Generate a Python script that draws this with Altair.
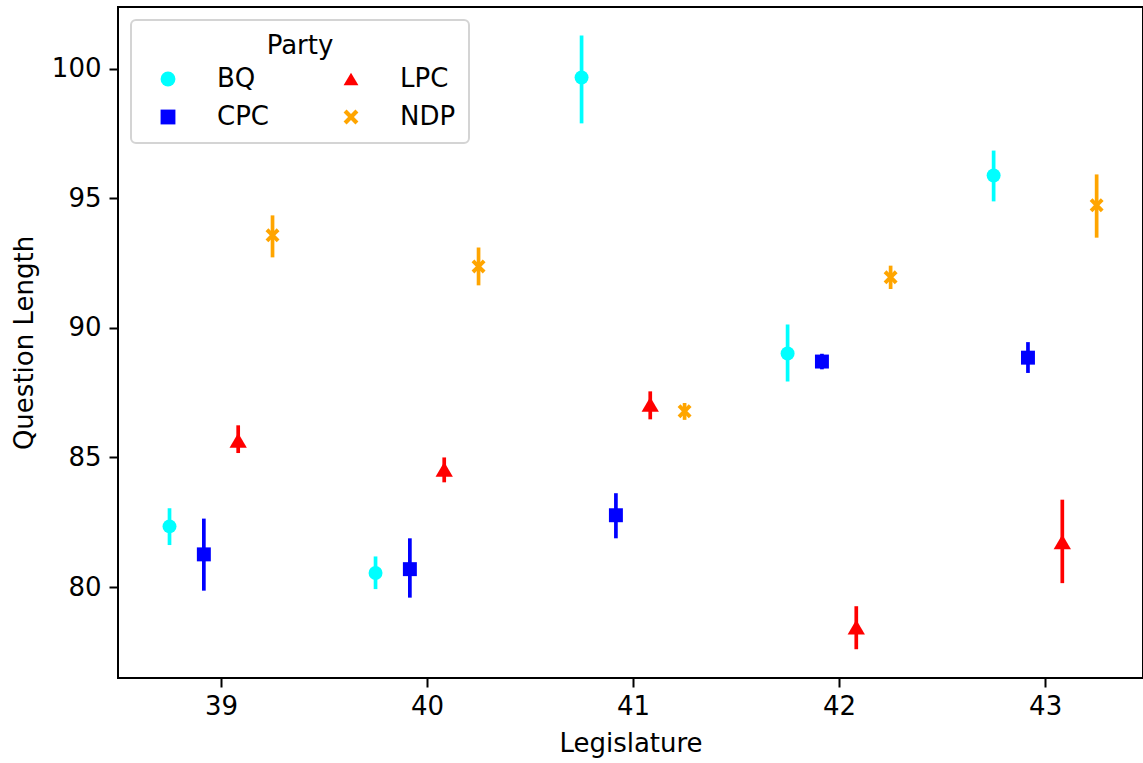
import altair as alt
import pandas as pd

legislatures = [39, 40, 41, 42, 43]
parties = ["BQ", "CPC", "LPC", "NDP"]

bq_mean = [82.34, 80.54, 99.66, 89.01, 95.88]
bq_lo = [81.62, 79.92, 97.89, 87.93, 94.88]
bq_hi = [83.04, 81.18, 101.28, 90.13, 96.84]

cpc_mean = [81.26, 80.69, 82.77, 88.70, 88.85]
cpc_lo = [79.86, 79.59, 81.88, 88.40, 88.26]
cpc_hi = [82.64, 81.88, 83.62, 89.00, 89.45]

lpc_mean = [85.66, 84.54, 87.05, 78.45, 81.74]
lpc_lo = [85.17, 84.04, 86.47, 77.60, 80.15]
lpc_hi = [86.24, 85.00, 87.55, 79.26, 83.37]

ndp_mean = [93.57, 92.37, 86.78, 91.95, 94.73]
ndp_lo = [92.72, 91.64, 86.45, 91.50, 93.48]
ndp_hi = [94.34, 93.10, 87.10, 92.40, 95.92]

series = {
    "BQ": (bq_mean, bq_lo, bq_hi),
    "CPC": (cpc_mean, cpc_lo, cpc_hi),
    "LPC": (lpc_mean, lpc_lo, lpc_hi),
    "NDP": (ndp_mean, ndp_lo, ndp_hi),
}
dodge = {"BQ": -0.25, "CPC": -1 / 12, "LPC": 1 / 12, "NDP": 0.25}

rows = []
for p in parties:
    m, lo, hi = series[p]
    for i, leg in enumerate(legislatures):
        rows.append({"Party": p, "leg": leg, "x": leg + dodge[p],
                     "mean": m[i], "lo": lo[i], "hi": hi[i]})
df = pd.DataFrame(rows)

tri_path = "M0,-0.85L1,0.85L-1,0.85Z"
x_path = ("M-1,-0.6L-0.6,-1L0,-0.4L0.6,-1L1,-0.6L0.4,0L1,0.6L0.6,1"
          "L0,0.4L-0.6,1L-1,0.6L-0.4,0Z")
color_scale = alt.Scale(domain=parties,
                        range=["#00ffff", "#0000ff", "#ff0000", "#ffa500"])
shape_scale = alt.Scale(domain=parties,
                        range=["circle", "square", tri_path, x_path])

xscale = alt.Scale(domain=[38.5, 43.475], nice=False, zero=False)
yscale = alt.Scale(domain=[76.49, 102.38], nice=False, zero=False)

base = alt.Chart(df)

bars = base.mark_rule(strokeWidth=3.7).encode(
    x=alt.X("x:Q", scale=xscale),
    y=alt.Y("lo:Q", scale=yscale),
    y2="hi:Q",
    color=alt.Color("Party:N", scale=color_scale),
)

enc = dict(
    x=alt.X("x:Q", scale=xscale,
            axis=alt.Axis(values=legislatures, format="d", title="Legislature")),
    y=alt.Y("mean:Q", scale=yscale,
            axis=alt.Axis(values=[80, 85, 90, 95, 100], title="Question Length")),
    color=alt.Color("Party:N", scale=color_scale,
                    legend=alt.Legend(title="Party", columns=2, values=parties)),
    shape=alt.Shape("Party:N", scale=shape_scale,
                    legend=alt.Legend(title="Party", columns=2, values=parties)),
)

pts = base.mark_point(filled=True, opacity=1, size=195).encode(**enc).transform_filter(
    alt.datum.Party != "LPC")
tri = base.mark_point(filled=True, opacity=1, size=300).encode(**enc).transform_filter(
    alt.datum.Party == "LPC")

chart = alt.layer(bars, pts, tri).properties(
    width=1025,
    height=671,
    autosize=alt.AutoSizeParams(type="none"),
    padding={"left": 118, "top": 7, "right": 0, "bottom": 85},
).configure_view(
    stroke="black", strokeWidth=2
).configure_axis(
    grid=False,
    domain=False,
    tickColor="black",
    tickWidth=2,
    tickSize=9,
    labelFont="DejaVu Sans",
    labelFontSize=26,
    labelColor="black",
    titleFont="DejaVu Sans",
    titleFontSize=26,
    titleFontWeight="normal",
    titleColor="black",
).configure_axisX(
    labelPadding=6,
    titlePadding=11,
).configure_axisY(
    labelPadding=8,
    titlePadding=14,
).configure_legend(
    orient="none",
    legendX=13,
    legendY=13,
    padding=13,
    fillColor="white",
    strokeColor="#d4d4d4",
    strokeWidth=2,
    cornerRadius=5,
    titleFont="DejaVu Sans",
    titleFontSize=26,
    titleFontWeight="normal",
    titleColor="black",
    titleAnchor="middle",
    titlePadding=7,
    labelFont="DejaVu Sans",
    labelFontSize=26,
    labelColor="black",
    labelOffset=36,
    symbolOffset=11,
    symbolSize=220,
    symbolStrokeWidth=0,
    rowPadding=12,
    columnPadding=58,
)

chart.save("out.html", embed_options={"renderer": "svg", "actions": False})
